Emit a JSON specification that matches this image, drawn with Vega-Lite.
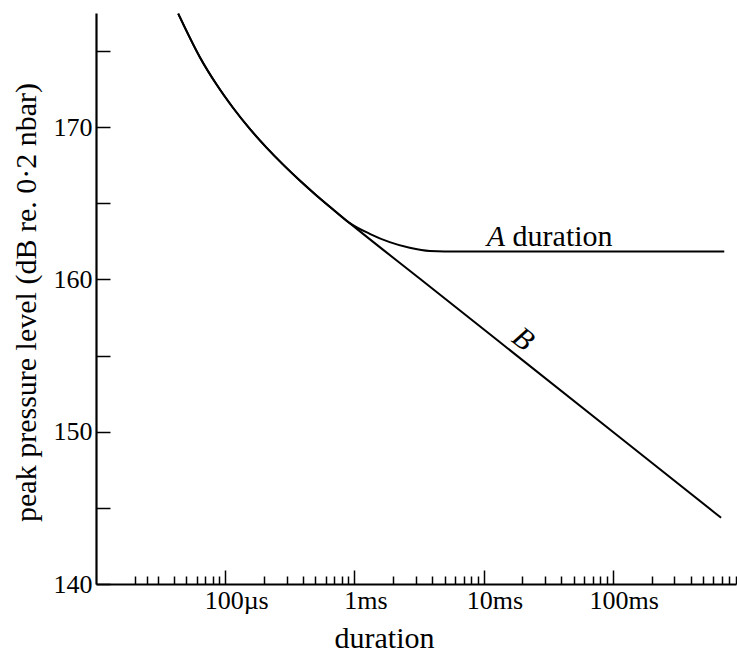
{
  "$schema": "https://vega.github.io/schema/vega-lite/v6.json",
  "width": 640,
  "height": 571,
  "autosize": {"type": "none"},
  "padding": {"left": 96, "top": 13, "right": 1, "bottom": 70},
  "background": "white",
  "config": {
    "view": {"stroke": null},
    "font": "'Liberation Serif', 'DejaVu Serif', serif",
    "text": {"font": "'Liberation Serif', 'DejaVu Serif', serif"},
    "axis": {
      "grid": false,
      "domainColor": "black",
      "tickColor": "black",
      "labelColor": "black",
      "titleColor": "black",
      "labelFont": "'Liberation Serif', 'DejaVu Serif', serif",
      "titleFont": "'Liberation Serif', 'DejaVu Serif', serif",
      "labelFontWeight": "normal",
      "titleFontWeight": "normal",
      "labelFontSize": 26,
      "titleFontSize": 30
    }
  },
  "datasets": {
    "curves": [
      {"s": "A", "t": 0.0000433, "db": 177.46},
      {"s": "A", "t": 0.0000637, "db": 174.6},
      {"s": "A", "t": 0.0000858, "db": 172.8},
      {"s": "A", "t": 0.0001153, "db": 171.26},
      {"s": "A", "t": 0.0001552, "db": 169.89},
      {"s": "A", "t": 0.000209, "db": 168.66},
      {"s": "A", "t": 0.000281, "db": 167.54},
      {"s": "A", "t": 0.000378, "db": 166.5},
      {"s": "A", "t": 0.000509, "db": 165.52},
      {"s": "A", "t": 0.000684, "db": 164.6},
      {"s": "A", "t": 0.000921, "db": 163.7},
      {"s": "A", "t": 0.001315, "db": 163.0},
      {"s": "A", "t": 0.001878, "db": 162.45},
      {"s": "A", "t": 0.00268, "db": 162.08},
      {"s": "A", "t": 0.00383, "db": 161.87},
      {"s": "A", "t": 0.0065, "db": 161.83},
      {"s": "A", "t": 0.05, "db": 161.83},
      {"s": "A", "t": 0.73, "db": 161.83},
      {"s": "B", "t": 0.0000433, "db": 177.46},
      {"s": "B", "t": 0.0000637, "db": 174.6},
      {"s": "B", "t": 0.0000858, "db": 172.8},
      {"s": "B", "t": 0.0001153, "db": 171.26},
      {"s": "B", "t": 0.0001552, "db": 169.89},
      {"s": "B", "t": 0.000209, "db": 168.66},
      {"s": "B", "t": 0.000281, "db": 167.54},
      {"s": "B", "t": 0.000378, "db": 166.5},
      {"s": "B", "t": 0.000509, "db": 165.52},
      {"s": "B", "t": 0.000684, "db": 164.6},
      {"s": "B", "t": 0.000921, "db": 163.7},
      {"s": "B", "t": 0.0032, "db": 160.06},
      {"s": "B", "t": 0.1164, "db": 149.56},
      {"s": "B", "t": 0.69, "db": 144.35}
    ],
    "notes": [
      {"k": "A", "t": 0.01057, "db": 162.23, "txt": "A"},
      {"k": "d", "t": 0.01679, "db": 162.23, "txt": "duration"},
      {"k": "B", "t": 0.0202, "db": 156.07, "txt": "B"}
    ]
  },
  "layer": [
    {
      "data": {"name": "curves"},
      "mark": {"type": "line", "color": "black", "strokeWidth": 2, "interpolate": "monotone"},
      "encoding": {
        "x": {
          "field": "t",
          "type": "quantitative",
          "scale": {"type": "log", "domain": [0.00001, 0.9], "nice": false},
          "axis": {
            "title": "duration",
            "values": [0.00002, 0.000025, 0.00003, 0.00004, 0.00005, 0.00006, 0.00007, 0.00008, 0.00009,
                       0.0001, 0.0002, 0.0003, 0.0004, 0.0005, 0.0006, 0.0007, 0.0008, 0.0009,
                       0.001, 0.002, 0.003, 0.004, 0.005, 0.006, 0.007, 0.008, 0.009,
                       0.01, 0.02, 0.03, 0.04, 0.05, 0.06, 0.07, 0.08, 0.09,
                       0.1, 0.2, 0.3, 0.4, 0.5, 0.6, 0.7, 0.8, 0.9],
            "labelExpr": "datum.value == 0.0001 ? '100µs' : datum.value == 0.001 ? '1ms' : datum.value == 0.01 ? '10ms' : datum.value == 0.1 ? '100ms' : ''",
            "labelOverlap": false,
            "labelFlush": false,
            "labelBound": false,
            "labelOffset": 11,
            "labelPadding": 17,
            "tickSize": {"condition": {"test": "datum.value == 0.0001 || datum.value == 0.001 || datum.value == 0.01 || datum.value == 0.1", "value": -14}, "value": -8},
            "tickWidth": 1.5,
            "domainWidth": 1.8,
            "titleX": 288,
            "titleY": 63,
            "titleAlign": "center",
            "titleBaseline": "alphabetic"
          }
        },
        "y": {
          "field": "db",
          "type": "quantitative",
          "scale": {"domain": [140, 177.5], "nice": false, "zero": false},
          "axis": {
            "title": "peak pressure level (dB re. 0·2 nbar)",
            "values": [140, 142.5, 145, 147.5, 150, 152.5, 155, 157.5, 160, 162.5, 165, 167.5, 170, 172.5, 175, 177.5],
            "labelExpr": "datum.value % 10 == 0 ? format(datum.value, 'd') : ''",
            "labelOverlap": false,
            "labelFlush": false,
            "labelBound": false,
            "tickSize": -14,
            "tickWidth": 1.5,
            "labelPadding": 18,
            "domainWidth": 2.2,
            "titleAngle": -90,
            "titleX": -61,
            "titleY": 289,
            "titleAlign": "center",
            "titleBaseline": "alphabetic"
          }
        },
        "detail": {"field": "s"}
      }
    },
    {
      "data": {"name": "notes"},
      "transform": [{"filter": "datum.k == 'A'"}],
      "mark": {"type": "text", "font": "'Liberation Serif', 'DejaVu Serif', serif", "fontStyle": "italic", "fontSize": 30, "align": "left", "baseline": "alphabetic", "color": "black"},
      "encoding": {
        "x": {"field": "t", "type": "quantitative"},
        "y": {"field": "db", "type": "quantitative"},
        "text": {"field": "txt"}
      }
    },
    {
      "data": {"name": "notes"},
      "transform": [{"filter": "datum.k == 'd'"}],
      "mark": {"type": "text", "font": "'Liberation Serif', 'DejaVu Serif', serif", "fontSize": 30, "align": "left", "baseline": "alphabetic", "color": "black"},
      "encoding": {
        "x": {"field": "t", "type": "quantitative"},
        "y": {"field": "db", "type": "quantitative"},
        "text": {"field": "txt"}
      }
    },
    {
      "data": {"name": "notes"},
      "transform": [{"filter": "datum.k == 'B'"}],
      "mark": {"type": "text", "font": "'Liberation Serif', 'DejaVu Serif', serif", "fontStyle": "italic", "fontSize": 30, "align": "center", "baseline": "middle", "angle": 38, "color": "black"},
      "encoding": {
        "x": {"field": "t", "type": "quantitative"},
        "y": {"field": "db", "type": "quantitative"},
        "text": {"field": "txt"}
      }
    }
  ]
}
